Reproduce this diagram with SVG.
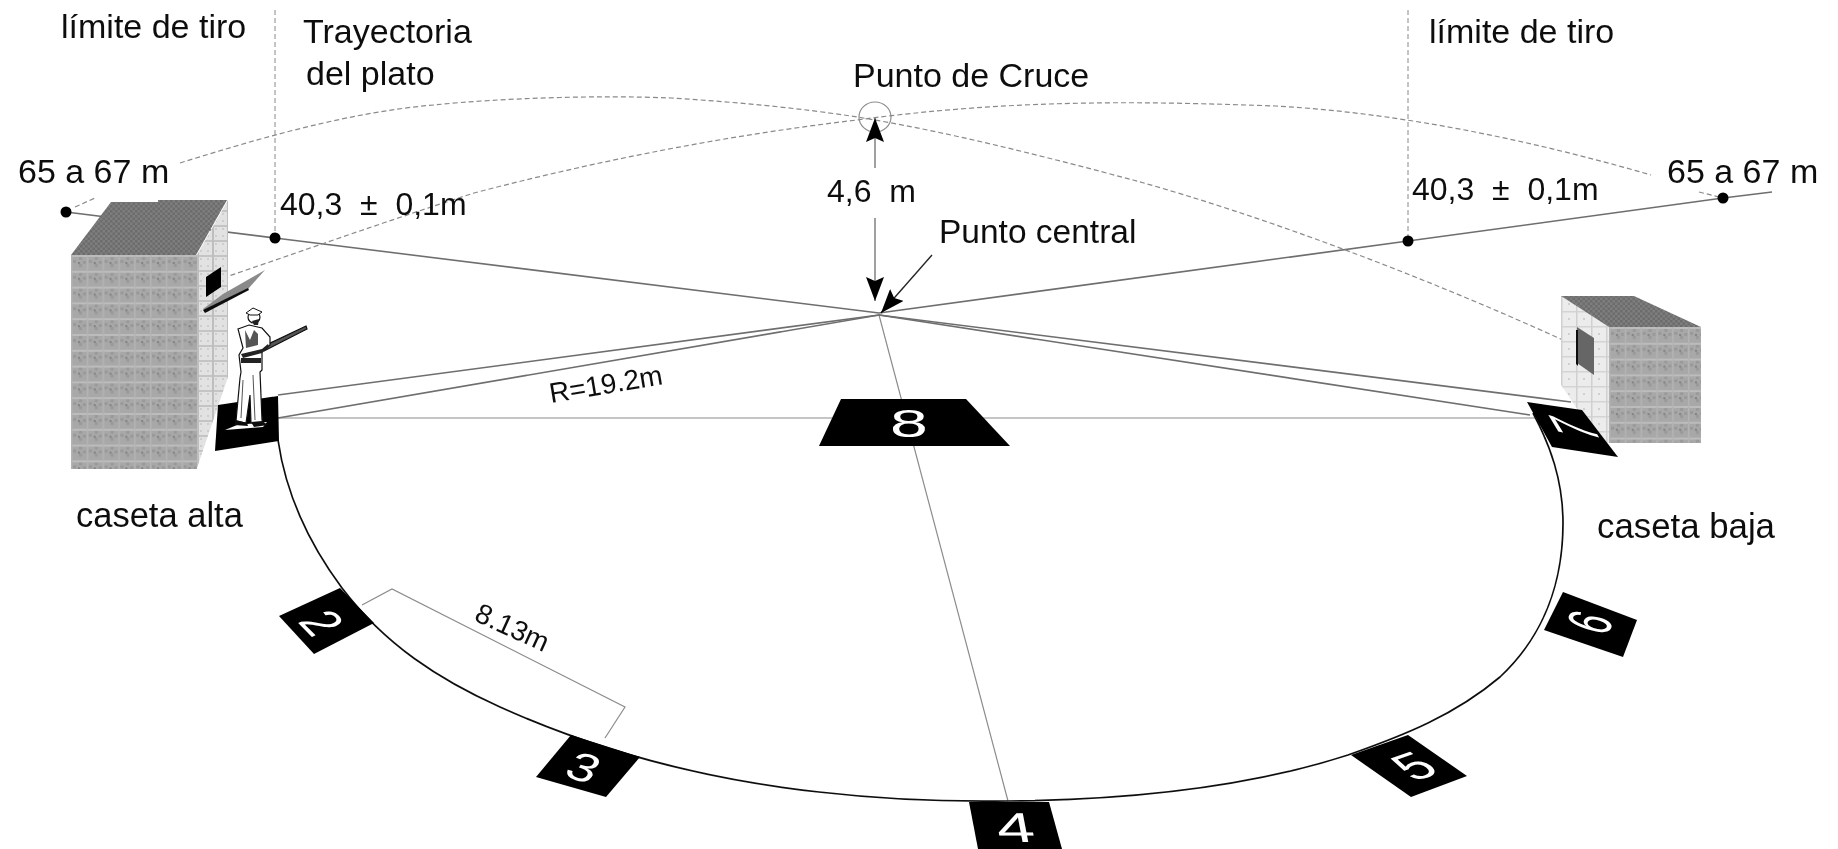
<svg xmlns="http://www.w3.org/2000/svg" width="1838" height="849" viewBox="0 0 1838 849">
<style>
text{font-family:"Liberation Sans",Arial,sans-serif;fill:#111}
.l{font-size:34px}.m{font-size:32px}.s{font-size:28px}
.d{font-size:40px;fill:#fff;text-anchor:middle}
.solid{fill:none;stroke:#6e6e6e;stroke-width:1.6}
.thin{fill:none;stroke:#8c8c8c;stroke-width:1.2}
.dash{fill:none;stroke:#8a8a8a;stroke-width:1.2;stroke-dasharray:5 3}
.arc{fill:none;stroke:#111;stroke-width:1.7}
.pad{fill:#000}
.dot{fill:#000}
.arr{fill:none;stroke:#777;stroke-width:1.4;marker-end:url(#ah)}
.man{fill:#fff;stroke:#111;stroke-width:1.2}
</style>
<defs>
<filter id="soft" x="0" y="0" width="100%" height="100%"><feGaussianBlur stdDeviation="0.45"/></filter>
<marker id="ah" markerUnits="userSpaceOnUse" markerWidth="24" markerHeight="18" refX="24" refY="9" orient="auto"><path d="M0 0L24 9L0 18L4 9Z" fill="#000"/></marker>
<pattern id="pf" patternUnits="userSpaceOnUse" x="71" y="255" width="15.8" height="15.8">
<rect width="15.8" height="15.8" fill="#a8a8a8"/>
<path d="M2 5h3v3h-3zM8 2h3v3h-3zM8 9h3v3h-3zM12 6h3v3h-3z" fill="#999"/>
<rect width="15.8" height="2" fill="#bcbcbc"/><rect width="1.400" height="15.8" fill="#b4b4b4"/>
<rect x="7" y="7" width="2" height="2" fill="#808080"/>
</pattern>
<pattern id="pf2" href="#pf" x="1609" y="327"/>
<pattern id="ps" patternUnits="userSpaceOnUse" x="197" y="255" width="15" height="15">
<rect width="15" height="15" fill="#e2e2e2"/>
<path d="M3 3h2v2h-2zM10 3h2v2h-2zM3 10h2v2h-2zM10 10h2v2h-2z" fill="#cdcdcd"/>
<rect width="15" height="2" fill="#c4c4c4"/><rect width="2" height="15" fill="#bebebe"/>
</pattern>
<pattern id="ps2" patternUnits="userSpaceOnUse" x="1561" y="296" width="15" height="15">
<rect width="15" height="15" fill="#ececec"/>
<rect width="15" height="1.500" fill="#d4d4d4"/><rect width="1.500" height="15" fill="#d0d0d0"/>
<path d="M7 7h2v2h-2z" fill="#d0d0d0"/>
</pattern>
<pattern id="pt" patternUnits="userSpaceOnUse" width="5" height="5">
<rect width="5" height="5" fill="#7e7e7e"/><path d="M0 0h2.500v2.500h-2.500zM2.500 2.500h2.500v2.500h-2.500z" fill="#6c6c6c"/>
</pattern>
</defs>
<rect width="1838" height="849" fill="#fff"/>
<g filter="url(#soft)">
<g id="connectors">
<path class="thin" d="M278 418H1535"/>
<path class="thin" d="M879 315L1008 801"/>
<path class="solid" d="M278 395L879 315L1571 402"/>
<path class="solid" d="M278 418L879 315L1530 415"/>
<path class="solid" d="M66 212L275 238L879 313L1408 241L1723 198L1772 192"/>
<path class="dash" style="stroke-width:1" d="M275 10V238M1408 10V241"/>
<path class="dash" d="M180 163C260 138 350 112 434 105C500 98 600 95 671 98C735 102 800 108 857 117C950 132 1050 158 1133 180C1260 215 1420 275 1563 340"/>
<path class="dash" d="M223 278C305 250 390 220 474 193C600 160 730 135 857 120C930 110 1010 104 1094 103C1150 102 1220 104 1276 106C1400 113 1530 140 1651 175"/>
<path class="dash" d="M75 207L95 198M1699 192L1723 198"/>
<ellipse class="thin" cx="875" cy="117" rx="16" ry="15"/>
<path class="arr" d="M875 168V118"/>
<path class="arr" d="M875 218V301"/>
<path style="fill:none;stroke:#222;stroke-width:1.4;marker-end:url(#ah)" d="M932 255L881 313"/>
<path class="thin" d="M362 605L392 589L625 707L605 738"/>
<path class="arc" d="M278 440C286 495 310 545 342 588C385 645 440 680 500 707C600 752 710 780 819 792C880 799 945 802 1008 801C1120 800 1240 790 1348 755C1405 735 1455 715 1500 677C1545 635 1563 580 1563 523C1563 480 1550 445 1533 413"/>
<circle class="dot" cx="66" cy="212" r="5.500"/>
<circle class="dot" cx="275" cy="238" r="5.500"/>
<circle class="dot" cx="1408" cy="241" r="5.500"/>
<circle class="dot" cx="1723" cy="198" r="5.500"/>
</g>

<g id="caseta-alta">
<rect x="71" y="255" width="126" height="214" fill="url(#pf)"/>
<path d="M197 255L228 200V377L197 468Z" fill="url(#ps)"/>
<path d="M71 255L111 202H158V200H227L196 255Z" fill="url(#pt)"/>
<path d="M206 277L221 267V287L206 297Z" fill="#000"/>
<path d="M203 309L223 294L265 270L248 289L206 312Z" fill="#8a8a8a"/>
<path d="M203 310L248 288L249 290L205 313Z" fill="#111"/>
</g>

<g id="puesto-1">
<path class="pad" d="M218 405L278 396L279 441L215 451Z"/>
<path d="M225 430L237 425L267 422L263 427Z" fill="#fff"/>
</g>

<g id="tirador">
<path class="man" d="M262 347L306 326L307 329L264 351Z" style="fill:#555"/>
<path class="man" d="M238 329L249 325L262 328L270 337L270 345L262 351L262 370L260 372L262 420L263 423L251 423L250 395L246 423L236 421L240 378L241 372L239 355L243 348Z"/>
<path d="M245 330L250 340L254 330L258 334L258 345L246 348Z" fill="#555"/>
<path d="M241 354L262 349L268 344L269 347L262 353L243 358Z" fill="#222"/>
<path d="M241 358h20v5h-20z" fill="#222"/>
<path d="M253 375L255 420M243 380L241 418" stroke="#555" stroke-width="1" fill="none"/>
<circle class="man" cx="254" cy="317" r="6"/>
<path d="M246 313L253 308L262 312L258 315L250 315Z" fill="#fff" stroke="#111"/>
<path d="M252 321L259 319L258 325L254 325Z" fill="#222"/>
<path d="M236 420L247 423L248 426L234 425Z" fill="#111"/>
<path d="M251 422L262 421L268 425L254 427Z" fill="#111"/>
</g>

<g id="caseta-baja">
<rect x="1609" y="327" width="92" height="116" fill="url(#pf2)"/>
<path d="M1561 296L1609 327V443H1600L1561 385Z" fill="url(#ps2)"/>
<path d="M1561 296H1634L1701 327H1609Z" fill="url(#pt)"/>
<path d="M1577 327L1594 338V375L1577 363Z" fill="#666"/>
<path d="M1576 330L1578 330V366L1576 364Z" fill="#111"/>
</g>

<g id="puesto-2"><path class="pad" d="M340 588L374 623L314 654L279 616Z"/><text class="d" transform="matrix(.75 .76 -1.2 .52 305 630)">2</text></g>
<g id="puesto-3"><path class="pad" d="M571 735L640 757L606 797L536 777Z"/><text class="d" transform="matrix(1.25 .4 -.55 .9 576 780)">3</text></g>
<g id="puesto-4"><path class="pad" d="M969 802H1049L1062 849H978Z"/><text class="d" transform="matrix(1.7 0 .2 1.05 1018 842)">4</text></g>
<g id="puesto-5"><path class="pad" d="M1351 755L1408 735L1467 776L1411 797Z"/><text class="d" transform="matrix(1.25 -.44 1 .8 1428 777)">5</text></g>
<g id="puesto-6"><path class="pad" d="M1563 592L1637 620L1623 657L1544 630Z"/><text class="d" transform="matrix(.45 -.7 1.47 .48 1610 629)">6</text></g>
<g id="puesto-7"><path class="pad" d="M1527 402L1582 410L1618 457L1552 447Z"/><text class="d" transform="matrix(-.55 -.9 1.58 .39 1597 434)">7</text></g>
<g id="puesto-8"><path class="pad" d="M841 399H966L1010 446H819Z"/><text class="d" transform="matrix(1.7 0 0 .95 909 437)">8</text></g>

<g id="etiquetas">
<text class="l" x="61" y="38">límite de tiro</text>
<text class="l" x="303" y="43">Trayectoria</text>
<text class="l" x="306" y="85">del plato</text>
<text class="l" x="18" y="183">65 a 67 m</text>
<text class="m" x="280" y="215">40,3 &#160;± &#160;0,1m</text>
<text class="l" x="853" y="87">Punto de Cruce</text>
<text class="m" x="827" y="202">4,6 &#160;m</text>
<text class="l" x="939" y="243" style="font-size:33.500px">Punto central</text>
<text class="l" x="1429" y="43">límite de tiro</text>
<text class="m" x="1412" y="200">40,3 &#160;± &#160;0,1m</text>
<text class="l" x="1667" y="183">65 a 67 m</text>
<text class="l" x="76" y="527" style="font-size:34.500px">caseta alta</text>
<text class="l" x="1597" y="538" style="font-size:34.800px">caseta baja</text>
<text class="s" transform="translate(551 403) rotate(-9.500)">R=19.2m</text>
<text class="s" transform="translate(473 620) rotate(24.500)">8.13m</text>
</g>
</g>
</svg>
